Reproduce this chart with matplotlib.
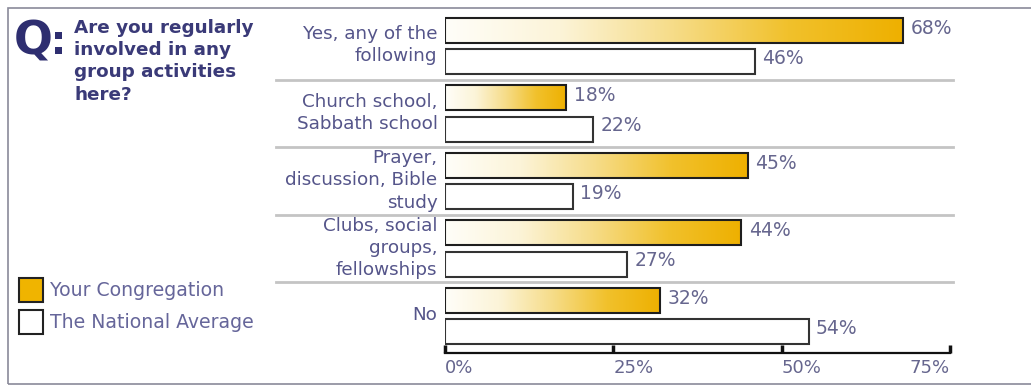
import numpy as np
import matplotlib
matplotlib.use("Agg")
import matplotlib.pyplot as plt
from matplotlib.colors import LinearSegmentedColormap
from matplotlib.patches import Rectangle

# ---- data ----
categories = ["Yes, any of the\nfollowing", "Church school,\nSabbath school",
              "Prayer,\ndiscussion, Bible\nstudy", "Clubs, social\ngroups,\nfellowships", "No"]
congregation = [68, 18, 45, 44, 32]
national = [46, 22, 19, 27, 54]
tick_values = [0, 25, 50, 75]
tick_labels = ["0%", "25%", "50%", "75%"]
question = "Are you regularly\ninvolved in any\ngroup activities\nhere?"
legend_labels = ["Your Congregation", "The National Average"]

W, H = 1031, 387
fig = plt.figure(figsize=(W / 100, H / 100), dpi=100)
fig.patch.set_facecolor("white")

def fx(px):
    return px / W

def fy(py):
    return 1 - py / H

label_color = "#55558a"
value_color = "#66668e"
navy = "#2e2e70"

# frame
fig.add_artist(Rectangle((fx(8), fy(384)), fx(1040) - fx(8), fy(8) - fy(384),
                         transform=fig.transFigure, fill=False,
                         edgecolor="#8a8a9a", linewidth=1.2))

# main axes: x 0..75 mapped to px 445..950, y top 8 bottom 353
ax_left, ax_right = 445, 950
ax_top, ax_bot = 8, 353
ax = fig.add_axes([fx(ax_left), fy(ax_bot), fx(ax_right) - fx(ax_left), fy(ax_top) - fy(ax_bot)])
ax.set_facecolor("none")
g0, gstep = 46, 67.5
ax.set_xlim(0, 75)
ax.set_ylim((ax_bot - g0) / gstep, (ax_top - g0) / gstep)

cmap = LinearSegmentedColormap.from_list(
    "gold", ["#fffef9", "#fcf4d8", "#f6dc88", "#f1c12c", "#eeb000"])
grad = np.linspace(0, 1, 256).reshape(1, -1)

off = 0.232
bh = 0.37
for i, (c, n) in enumerate(zip(congregation, national)):
    yc = i - off
    bar = ax.barh(yc, c, height=bh, color="none", edgecolor="#1e1e1e", linewidth=1.5, zorder=3)[0]
    im = ax.imshow(grad, extent=[0, c, yc + bh / 2, yc - bh / 2], aspect="auto",
                   cmap=cmap, zorder=2, interpolation="bilinear")
    im.set_clip_path(bar)
    ax.text(c + 1.1, yc - 0.03, f"{c}%", va="center", ha="left", fontsize=13.5,
            color=value_color, clip_on=False)
    yn = i + off
    ax.barh(yn, n, height=bh, color="white", edgecolor="#333333", linewidth=1.5, zorder=3)
    ax.text(n + 1.1, yn - 0.05, f"{n}%", va="center", ha="left", fontsize=13.5,
            color=value_color, clip_on=False)
    # category label
    ax.text(-1.1, i - 0.01, categories[i], ha="right", va="center", fontsize=13.2,
            color=label_color, linespacing=1.3, clip_on=False)

# separators
for s in np.arange(len(categories) - 1) + 0.5:
    ax.axhline(s, xmin=(276 - ax_left) / (ax_right - ax_left),
               xmax=(953 - ax_left) / (ax_right - ax_left),
               color="#c4c4c4", linewidth=2, clip_on=False, zorder=1)

ax.set_xlim(0, 75)
for sp in ["top", "right", "left"]:
    ax.spines[sp].set_visible(False)
ax.spines["bottom"].set_linewidth(1.6)
ax.spines["bottom"].set_color("#111111")
ax.set_yticks([])
ax.set_xticks(tick_values)
ax.set_xticklabels(tick_labels)
ax.tick_params(axis="x", direction="in", length=6, width=2.5, color="#111111",
               labelsize=13, labelcolor=value_color, pad=4)
for lab, v in zip(ax.get_xticklabels(), tick_values):
    lab.set_ha("right" if v == tick_values[-1] else "left")

# Q panel
fig.text(fx(14), fy(42), "Q", fontsize=33, fontweight="bold", color=navy,
         ha="left", va="center", family="DejaVu Sans")
for sy in [35, 50]:
    fig.add_artist(Rectangle((fx(55), fy(sy + 3.5)), fx(7), fy(0) - fy(7),
                             transform=fig.transFigure, facecolor=navy, edgecolor="none"))
fig.text(fx(74), fy(19), question, fontsize=13.2, fontweight="bold", color="#3a3a78",
         ha="left", va="top", linespacing=1.3)

# legend
leg_y = [290, 322]
leg_face = ["#f0b400", "white"]
for ly, fc, lab in zip(leg_y, leg_face, legend_labels):
    fig.add_artist(Rectangle((fx(19), fy(ly + 12)), fx(24), fy(0) - fy(24),
                             transform=fig.transFigure, facecolor=fc,
                             edgecolor="#222222", linewidth=1.5))
    fig.text(fx(50), fy(ly), lab, fontsize=13.6, color="#66669a", ha="left", va="center")

fig.savefig("out.png", dpi=100)
